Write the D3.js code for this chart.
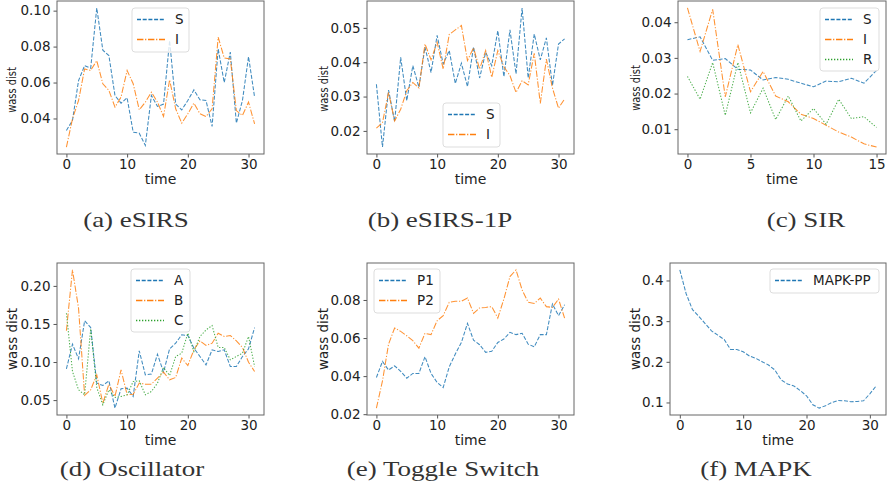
<!DOCTYPE html>
<html>
<head>
<meta charset="utf-8">
<script src="https://cdn.jsdelivr.net/npm/d3@7"></script>
<style>
  body { margin: 0; background: #fff; }
  svg { display: block; }
</style>
</head>
<body>
<div id="chart"></div>
<script>
// ---- data (one value per time step) ----
const esirsS = [0.0333, 0.0389, 0.0611, 0.0694, 0.068, 0.1015, 0.078, 0.075, 0.0528, 0.0485, 0.0515, 0.0324, 0.0318, 0.025, 0.0528, 0.0467,
  0.048, 0.0833, 0.048, 0.0448, 0.05, 0.0559, 0.0504, 0.05, 0.0356, 0.0787, 0.06, 0.0769, 0.0374, 0.05, 0.0744, 0.0519];
const esirsI = [0.0241, 0.0398, 0.05, 0.0676, 0.0667, 0.0722, 0.0593, 0.0556, 0.0463, 0.0519, 0.0667, 0.0593, 0.0448, 0.0491, 0.0546, 0.0491,
  0.0411, 0.0615, 0.0454, 0.0374, 0.0426, 0.0485, 0.0426, 0.0411, 0.0454, 0.0852, 0.0737, 0.0731, 0.0444, 0.0417, 0.0491, 0.037];

const esirs1pS = [0.0336, 0.0153, 0.0319, 0.0227, 0.0414, 0.0288, 0.039, 0.0327, 0.0444, 0.037, 0.0478, 0.0395, 0.0434, 0.0338, 0.0397, 0.0329,
  0.0444, 0.0354, 0.0429, 0.039, 0.0492, 0.0358, 0.0494, 0.0366, 0.0558, 0.0354, 0.0482, 0.0407, 0.0471, 0.0332, 0.0453, 0.0468];
const esirs1pI = [0.0208, 0.0224, 0.0312, 0.0229, 0.0263, 0.0317, 0.0341, 0.0325, 0.0453, 0.0407, 0.0458, 0.038, 0.0481, 0.0494, 0.0507, 0.0405,
  0.0442, 0.038, 0.0434, 0.0356, 0.0434, 0.0387, 0.0361, 0.0312, 0.0346, 0.0334, 0.0426, 0.028, 0.0409, 0.0325, 0.0266, 0.0293];

const sirS = [0.0351, 0.0359, 0.0293, 0.0298, 0.0268, 0.0266, 0.0238, 0.0245, 0.024, 0.0229, 0.0219, 0.0235, 0.0233, 0.0243, 0.0229, 0.0265];
const sirI = [0.044, 0.0318, 0.0436, 0.0191, 0.0337, 0.0205, 0.0262, 0.0193, 0.0177, 0.0142, 0.013, 0.0111, 0.0092, 0.0078, 0.0059, 0.005];
const sirR = [0.0248, 0.0184, 0.0287, 0.0139, 0.0287, 0.0146, 0.0215, 0.0127, 0.0193, 0.0123, 0.0158, 0.0114, 0.0184, 0.013, 0.0135, 0.0105];

const oscA = [0.0911, 0.1234, 0.1042, 0.1541, 0.1453, 0.0723, 0.0692, 0.0753, 0.0395, 0.0648, 0.0657, 0.0548, 0.1147, 0.0832, 0.0841, 0.1103,
  0.0867, 0.1173, 0.1248, 0.1357, 0.1348, 0.1182, 0.1073, 0.0963, 0.116, 0.1138, 0.116, 0.0941, 0.0941, 0.1073, 0.1173, 0.1453];
const oscB = [0.141, 0.221, 0.1707, 0.0561, 0.0635, 0.0832, 0.046, 0.0709, 0.0548, 0.0898, 0.057, 0.0578, 0.0723, 0.0709, 0.0709, 0.0788,
  0.0867, 0.0766, 0.0797, 0.1051, 0.0954, 0.116, 0.1278, 0.1217, 0.1248, 0.1379, 0.1335, 0.1348, 0.1278, 0.1191, 0.0998, 0.0876];
const oscC = [0.1641, 0.0876, 0.0635, 0.057, 0.1436, 0.0666, 0.0438, 0.0635, 0.0534, 0.0548, 0.057, 0.0744, 0.0753, 0.057, 0.0613, 0.0723,
  0.0928, 0.0823, 0.1073, 0.1116, 0.1379, 0.1138, 0.1335, 0.1422, 0.1479, 0.1191, 0.1191, 0.1029, 0.1073, 0.1116, 0.1335, 0.0941];

const toggleP1 = [0.0393, 0.0477, 0.0432, 0.0454, 0.0425, 0.0389, 0.0414, 0.0414, 0.0502, 0.0414, 0.0367, 0.034, 0.0449, 0.0516, 0.0577, 0.0677,
  0.0589, 0.0565, 0.0525, 0.053, 0.0577, 0.0595, 0.063, 0.0618, 0.0625, 0.0568, 0.0554, 0.0618, 0.0618, 0.0779, 0.0718, 0.0775];
const toggleP2 = [0.0232, 0.0375, 0.0568, 0.0653, 0.0635, 0.0612, 0.0586, 0.0547, 0.0625, 0.0618, 0.0691, 0.0718, 0.0788, 0.0793, 0.0793, 0.081,
  0.073, 0.0758, 0.0761, 0.0765, 0.0705, 0.0805, 0.0923, 0.0958, 0.0853, 0.0788, 0.0782, 0.081, 0.0765, 0.0761, 0.0805, 0.0705];

const mapkPP = [0.426, 0.3674, 0.3283, 0.312, 0.294, 0.2761, 0.2655, 0.2549, 0.2305, 0.2305, 0.2248, 0.2142, 0.2085, 0.2003, 0.1922, 0.18,
  0.1555, 0.1457, 0.1408, 0.1294, 0.1164, 0.0943, 0.0862, 0.0919, 0.1, 0.105, 0.1041, 0.1017, 0.1025, 0.1041, 0.1213, 0.1408];

// ---- tick labels ----
const xTicksLong = [0, 10, 20, 30];
const xTicksShort = [0, 5, 10, 15];
const yTicksEsirs = [0.04, 0.06, 0.08, 0.10];
const yTicksEsirs1p = [0.02, 0.03, 0.04, 0.05];
const yTicksSir = [0.01, 0.02, 0.03, 0.04];
const yTicksOsc = [0.05, 0.10, 0.15, 0.20];
const yTicksToggle = [0.02, 0.04, 0.06, 0.08];
const yTicksMapk = [0.1, 0.2, 0.3, 0.4];

const captions = ["(a) eSIRS", "(b) eSIRS-1P", "(c) SIR", "(d) Oscillator", "(e) Toggle Switch", "(f) MAPK"];

// matplotlib tab10 colours and line styles
const blue = "#1f77b4", orange = "#ff7f0e", green = "#2ca02c";
const dashes = { dashed: "4,1.7", dashdot: "6.4,1.7,1.2,1.7", dotted: "1.3,1.7" };

const width = 892, height = 500;
const tickFont = "DejaVu Sans, sans-serif";

// layout of each subfigure: frame box [left, top, right, bottom]
// ylab: [x, y, font size, squash along the text]
const panels = [
  { box: [57, 1, 264, 154], yTicks: yTicksEsirs, fmt: ".2f", xTicks: xTicksLong,
    series: [{ name: "S", values: esirsS, color: blue, style: "dashed" }, { name: "I", values: esirsI, color: orange, style: "dashdot" }],
    legend: [132, 8, 57, 44], ylab: [16, 90, 13, 0.76], cap: [136, 227] },
  { box: [367, 1, 574, 154], yTicks: yTicksEsirs1p, fmt: ".2f", xTicks: xTicksLong,
    series: [{ name: "S", values: esirs1pS, color: blue, style: "dashed" }, { name: "I", values: esirs1pI, color: orange, style: "dashdot" }],
    legend: [443, 103, 57, 44], ylab: [328, 89, 13, 0.76], cap: [440, 227] },
  { box: [678, 1, 886, 154], yTicks: yTicksSir, fmt: ".2f", xTicks: xTicksShort,
    series: [{ name: "S", values: sirS, color: blue, style: "dashed" }, { name: "I", values: sirI, color: orange, style: "dashdot" },
             { name: "R", values: sirR, color: green, style: "dotted" }],
    legend: [820, 8, 59, 63], ylab: [640, 88, 13, 0.76], cap: [806, 227] },
  { box: [57, 263, 264, 415], yTicks: yTicksOsc, fmt: ".2f", xTicks: xTicksLong,
    series: [{ name: "A", values: oscA, color: blue, style: "dashed" }, { name: "B", values: oscB, color: orange, style: "dashdot" },
             { name: "C", values: oscC, color: green, style: "dotted" }],
    legend: [131, 269, 59, 63], ylab: [17, 339, 13.4, 1], cap: [132, 476] },
  { box: [367, 263, 574, 415], yTicks: yTicksToggle, fmt: ".2f", xTicks: xTicksLong,
    series: [{ name: "P1", values: toggleP1, color: blue, style: "dashed" }, { name: "P2", values: toggleP2, color: orange, style: "dashdot" }],
    legend: [374, 269, 66, 44], ylab: [328, 339, 13.4, 1], cap: [443, 476] },
  { box: [670, 263, 886, 415], yTicks: yTicksMapk, fmt: ".1f", xTicks: xTicksLong,
    series: [{ name: "MAPK-PP", values: mapkPP, color: blue, style: "dashed" }],
    legend: [770, 269, 109, 24], ylab: [640, 339, 13.4, 1], cap: [756, 476] }
];

const svg = d3.select("#chart").append("svg")
  .attr("width", width)
  .attr("height", height);

panels.forEach((p, k) => {
  const [left, top, right, bottom] = p.box;
  const n = p.series[0].values.length - 1;

  // matplotlib style 5% margins
  const x = d3.scaleLinear().domain([-0.05 * n, 1.05 * n]).range([left, right]);
  const all = p.series.flatMap(s => s.values);
  const [lo, hi] = d3.extent(all);
  const pad = (hi - lo) * 0.05;
  const y = d3.scaleLinear().domain([lo - pad, hi + pad]).range([bottom, top]);

  const g = svg.append("g");

  // axes
  const yAxis = g.append("g")
    .attr("transform", `translate(${left},0)`)
    .call(d3.axisLeft(y).tickValues(p.yTicks).tickFormat(d3.format(p.fmt)).tickSize(3.5).tickPadding(3));
  const xAxis = g.append("g")
    .attr("transform", `translate(0,${bottom})`)
    .call(d3.axisBottom(x).tickValues(p.xTicks).tickFormat(d3.format("d")).tickSize(3.5).tickPadding(2));

  [yAxis, xAxis].forEach(a => {
    a.select(".domain").remove();
    a.selectAll("line").attr("stroke", "#555");
    a.selectAll("text")
      .attr("fill", "#222")
      .style("font-family", tickFont)
      .style("font-size", "13.5px");
  });

  // series lines
  const line = d3.line()
    .x((d, i) => x(i))
    .y(d => y(d));

  p.series.forEach(s => {
    g.append("path")
      .datum(s.values)
      .attr("d", line)
      .attr("fill", "none")
      .attr("stroke", s.color)
      .attr("stroke-width", 1.05)
      .attr("stroke-opacity", 0.85)
      .attr("stroke-dasharray", dashes[s.style]);
  });

  // frame
  g.append("rect")
    .attr("x", left)
    .attr("y", top)
    .attr("width", right - left)
    .attr("height", bottom - top)
    .attr("fill", "none")
    .attr("stroke", "#666")
    .attr("stroke-width", 1);

  // legend
  const [lx, ly, lw, lh] = p.legend;
  const leg = g.append("g").attr("transform", `translate(${lx},${ly})`);
  leg.append("rect")
    .attr("width", lw)
    .attr("height", lh)
    .attr("rx", 3)
    .attr("fill", "#fff")
    .attr("fill-opacity", 0.8)
    .attr("stroke", "#ddd");
  p.series.forEach((s, i) => {
    const ry = 11.5 + i * 20;
    leg.append("path")
      .attr("d", `M5,${ry}H33`)
      .attr("fill", "none")
      .attr("stroke", s.color)
      .attr("stroke-width", 1.3)
      .attr("stroke-dasharray", dashes[s.style]);
    leg.append("text")
      .attr("x", 43)
      .attr("y", ry)
      .attr("dy", "0.36em")
      .attr("fill", "#222")
      .style("font-family", tickFont)
      .style("font-size", "13.5px")
      .text(s.name);
  });

  // axis titles
  g.append("text")
    .attr("x", (left + right) / 2)
    .attr("y", bottom + 30)
    .attr("text-anchor", "middle")
    .attr("fill", "#222")
    .style("font-family", tickFont)
    .style("font-size", "14px")
    .text("time");

  const [yx, yy, ys, sq] = p.ylab;
  g.append("text")
    .attr("transform", `translate(${yx},${yy}) rotate(-90) scale(${sq},1)`)
    .attr("text-anchor", "middle")
    .attr("fill", "#222")
    .style("font-family", tickFont)
    .style("font-size", ys + "px")
    .text("wass dist");

  // sub-caption in LaTeX style
  const [cx, cy] = p.cap;
  g.append("text")
    .attr("transform", `translate(${cx},${cy}) scale(1.35,1)`)
    .attr("text-anchor", "middle")
    .attr("fill", "#333")
    .style("font-family", "Liberation Serif, serif")
    .style("font-size", "20px")
    .text(captions[k]);
});
</script>
</body>
</html>
